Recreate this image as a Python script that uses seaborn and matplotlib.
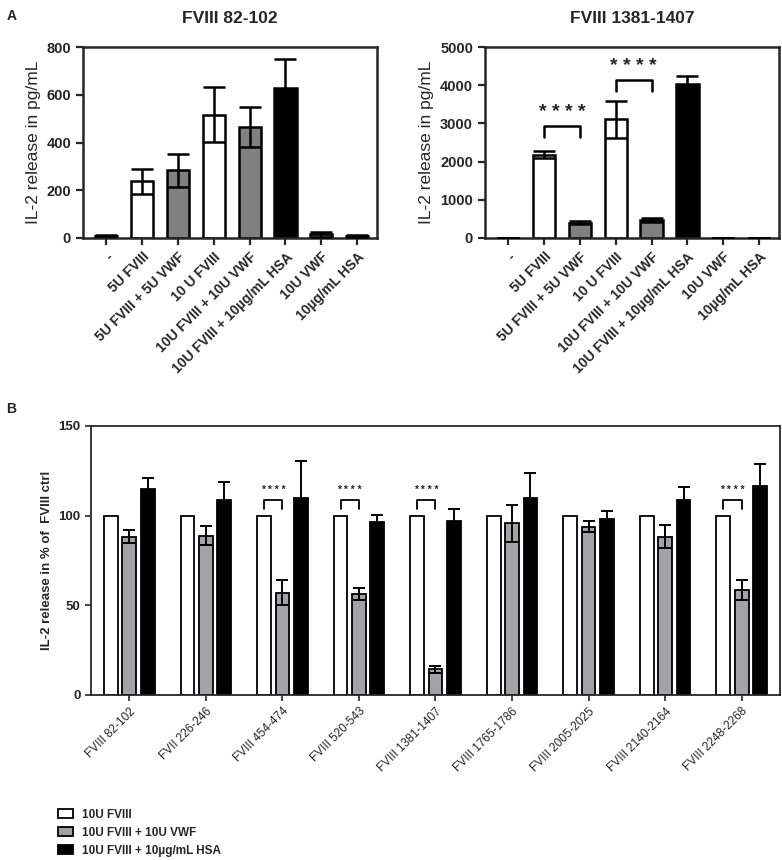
import numpy as np
import pandas as pd
import seaborn as sns
import matplotlib.pyplot as plt
from matplotlib.patches import Patch

# panel A data
conditions = ["-", "5U FVIII", "5U FVIII + 5U VWF", "10 U FVIII", "10U FVIII + 10U VWF",
              "10U FVIII + 10µg/mL HSA", "10U VWF", "10µg/mL HSA"]
cond_colors = ["black", "white", "#808080", "white", "#808080", "black", "#808080", "black"]
fviii_82_mean = [10, 237, 283, 517, 466, 627, 15, 8]
fviii_82_sem = [3, 53, 70, 115, 83, 121, 9, 3]
fviii_1381_mean = [0, 2185, 395, 3105, 465, 4040, 5, 5]
fviii_1381_sem = [0, 95, 40, 490, 50, 190, 0, 0]

# panel B data
peptides = ["FVIII 82-102", "FVII 226-246", "FVIII 454-474", "FVIII 520-543", "FVIII 1381-1407",
            "FVIII 1765-1786", "FVIII 2005-2025", "FVIII 2140-2164", "FVIII 2248-2268"]
treatments = ["10U FVIII", "10U FVIII + 10U VWF", "10U FVIII + 10µg/mL HSA"]
treat_colors = ["white", "#a2a2a6", "black"]
pct_fviii = [100, 100, 100, 100, 100, 100, 100, 100, 100]
pct_vwf = [88.3, 88.9, 56.9, 56.3, 14.3, 95.7, 93.9, 88.3, 58.7]
pct_vwf_err = [3.8, 5.5, 7.0, 3.6, 2.0, 10.2, 3.3, 6.5, 5.6]
pct_hsa = [114.8, 108.7, 110.0, 96.3, 97.0, 109.6, 98.3, 108.7, 116.7]
pct_hsa_err = [6.2, 10.0, 20.5, 4.3, 6.9, 13.9, 4.5, 7.0, 12.3]
sig_groups = [2, 3, 4, 8]

sns.set_style("ticks")
plt.rcParams['font.family'] = ['Liberation Sans', 'DejaVu Sans']
plt.rcParams['axes.linewidth'] = 1.6
narrow = ['Liberation Sans Narrow', 'Liberation Sans']

fig = plt.figure(figsize=(7.82, 8.6), dpi=100)
axA1 = fig.add_axes([0.106, 0.7233, 0.376, 0.222])
axA2 = fig.add_axes([0.620, 0.7233, 0.376, 0.222])
axB = fig.add_axes([0.1164, 0.1919, 0.881, 0.3128])


def panel_a(ax, means, sems, title, ymax, step):
    df = pd.DataFrame({"cond": conditions, "val": means})
    sns.barplot(data=df, x="cond", y="val", hue="cond", palette=cond_colors, legend=False,
                order=conditions, width=0.62, edgecolor="black", linewidth=1.8,
                errorbar=None, ax=ax)
    ax.errorbar(range(len(conditions)), means, yerr=sems, fmt="none", ecolor="black",
                elinewidth=1.8, capsize=8, capthick=1.8, zorder=5)
    ax.set_xlim(-0.65, 7.55)
    ax.set_ylim(0, ymax)
    ax.set_yticks(np.arange(0, ymax + 1, step))
    ax.set_title(title, fontsize=12.5, fontweight="bold", pad=17)
    ax.set_xlabel("")
    ax.set_ylabel("IL-2 release in pg/mL", fontsize=12.5)
    ax.tick_params(width=1.6, length=5, labelsize=10.5)
    for lab in ax.get_yticklabels():
        lab.set_fontweight("bold")
    ax.set_xticks(range(len(conditions)))
    ax.set_xticklabels(conditions, rotation=45, ha="right", rotation_mode="anchor",
                       fontsize=10, fontweight="bold")
    for s in ax.spines.values():
        s.set_linewidth(1.8)


panel_a(axA1, fviii_82_mean, fviii_82_sem, "FVIII 82-102", 800, 200)
panel_a(axA2, fviii_1381_mean, fviii_1381_sem, "FVIII 1381-1407", 5000, 1000)

# significance brackets panel A right
for (i, j), y, leg in [((1, 2), 2932, 2644), ((3, 4), 4145, 3848)]:
    axA2.plot([i, i, j, j], [leg, y, y, leg], color="black", lw=1.8)
    axA2.text((i + j) / 2, y + 120, "* * * *", ha="center", va="bottom",
              fontsize=14, fontweight="bold")

# panel B
rows = []
for k, p in enumerate(peptides):
    rows.append((p, treatments[0], pct_fviii[k]))
    rows.append((p, treatments[1], pct_vwf[k]))
    rows.append((p, treatments[2], pct_hsa[k]))
dfB = pd.DataFrame(rows, columns=["peptide", "treatment", "value"])
sns.barplot(data=dfB, x="peptide", y="value", hue="treatment", order=peptides,
            hue_order=treatments, palette=treat_colors, width=0.72, gap=0.25,
            edgecolor="black", linewidth=1.3, errorbar=None, legend=False, ax=axB)

errs = [None, pct_vwf_err, pct_hsa_err]
centers = []
for cont, err in zip(axB.containers, errs):
    xs = [b.get_x() + b.get_width() / 2 for b in cont]
    hs = [b.get_height() for b in cont]
    centers.append(xs)
    if err is not None:
        axB.errorbar(xs, hs, yerr=err, fmt="none", ecolor="black", elinewidth=1.4,
                     capsize=4.5, capthick=1.4, zorder=5)

for g in sig_groups:
    x1, x2 = centers[0][g], centers[1][g]
    axB.plot([x1, x1, x2, x2], [103.5, 108.7, 108.7, 103.5], color="black", lw=1.3)
    axB.text((x1 + x2) / 2, 111.5, "* * * *", ha="center", va="bottom", fontsize=7.5,
             fontweight="bold")

axB.set_xlim(-0.5, 8.5)
axB.set_ylim(0, 150)
axB.set_yticks([0, 50, 100, 150])
axB.set_xlabel("")
axB.set_ylabel("IL-2 release in % of  FVIII ctrl", fontsize=9.5, fontweight="bold")
axB.yaxis.set_label_coords(-0.055, 0.5)
axB.tick_params(width=1.2, length=4)
axB.set_yticklabels(["0", "50", "100", "150"], fontsize=9.5, fontweight="bold", family=narrow)
axB.set_xticks(range(len(peptides)))
axB.set_xticklabels(peptides, rotation=45, ha="right", rotation_mode="anchor",
                    fontsize=8.5, family=narrow)
for s in axB.spines.values():
    s.set_linewidth(1.3)

handles = [Patch(facecolor=c, edgecolor="black", linewidth=1.3, label=t)
           for c, t in zip(treat_colors, treatments)]
fig.legend(handles=handles, loc="upper left", bbox_to_anchor=(0.06, 0.072),
           frameon=False, handlelength=1.3, handleheight=0.7, labelspacing=0.5,
           handletextpad=0.8, prop={"size": 8.5, "weight": "bold", "family": narrow})

fig.text(0.008, 0.99, "A", fontsize=10, fontweight="bold", va="top")
fig.text(0.008, 0.532, "B", fontsize=10, fontweight="bold", va="top")

fig.savefig("out.png", dpi=100)
